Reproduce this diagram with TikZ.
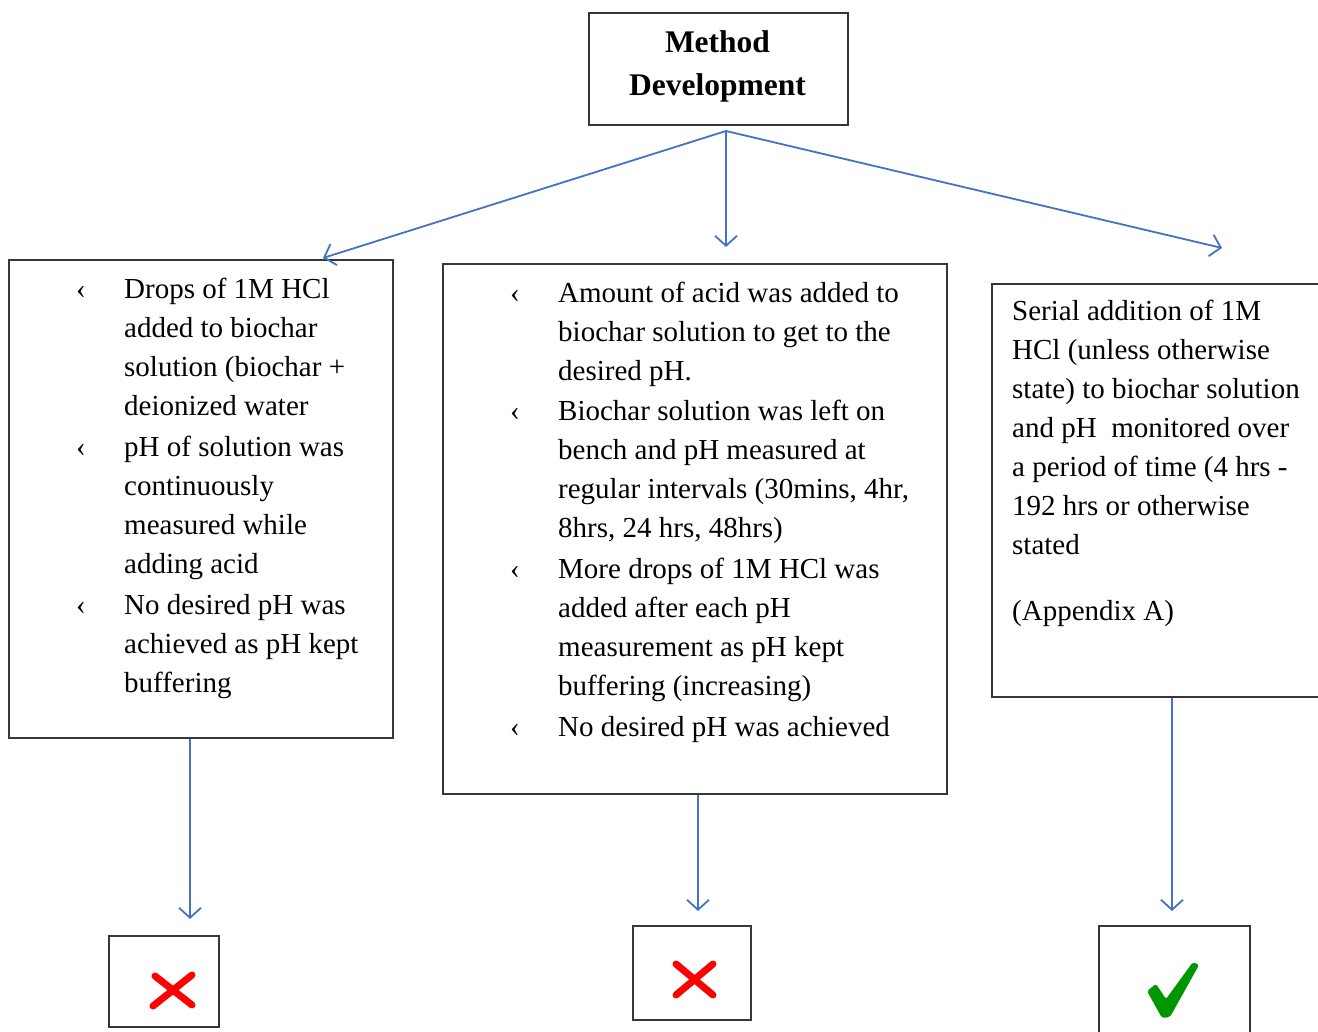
\documentclass[tikz,border=0pt]{standalone}
\usepackage{fontspec}
\setmainfont{Liberation Serif}
\usetikzlibrary{arrows.meta}
\definecolor{arrblue}{RGB}{68,114,196}
\definecolor{boxgray}{RGB}{55,55,55}
\definecolor{okgreen}{RGB}{0,150,0}
\definecolor{nored}{RGB}{255,0,0}
\begin{document}
\begin{tikzpicture}[x=1pt,y=-1pt,
  box/.style={draw=boxgray, line width=1.7pt, inner sep=0pt, anchor=north west},
  txt/.style={inner sep=0pt, anchor=base west, font=\fontsize{29}{39}\selectfont},
  arr/.style={draw=arrblue, line width=1.8pt, -{Straight Barb[length=10pt,width=22pt,line width=1.8pt]}},
  nomark/.style={draw=nored, line width=7pt, line cap=round},
]
\useasboundingbox (0,0) rectangle (1318,1032);
\clip (0,0) rectangle (1318,1032);

% boxes
\node[box, minimum width=259pt, minimum height=112pt] (md) at (588,12) {};
\node[box, minimum width=384pt, minimum height=478pt] (lb) at (8,259) {};
\node[box, minimum width=504pt, minimum height=530pt] (mb) at (442,263) {};
\node[box, minimum width=360pt, minimum height=413pt] (rb) at (991,283) {};
\node[box, minimum width=110pt, minimum height=91pt] (lr) at (108,935) {};
\node[box, minimum width=118pt, minimum height=94pt] (mr) at (632,925) {};
\node[box, minimum width=151pt, minimum height=120pt] (rr) at (1098,925) {};

% title
\node[inner sep=0pt, anchor=base, font=\bfseries\fontsize{31.5}{43}\selectfont] (mdt) at (717.5,53)
  {\begin{tabular}[t]{@{}c@{}}Method\\ Development\end{tabular}};

% texts
\node[txt] (lt) at (76,299) {\begin{tabular}[t]{@{}p{48pt}@{}l@{}}
‹ & Drops of 1M HCl\\
  & added to biochar\\
  & solution (biochar +\\
  & deionized water\\[2pt]
‹ & pH of solution was\\
  & continuously\\
  & measured while\\
  & adding acid\\[2pt]
‹ & No desired pH was\\
  & achieved as pH kept\\
  & buffering
\end{tabular}};

\node[txt] (mt) at (510,303) {\begin{tabular}[t]{@{}p{48pt}@{}l@{}}
‹ & Amount of acid was added to\\
  & biochar solution to get to the\\
  & desired pH.\\[1pt]
‹ & Biochar solution was left on\\
  & bench and pH measured at\\
  & regular intervals (30mins, 4hr,\\
  & 8hrs, 24 hrs, 48hrs)\\[2pt]
‹ & More drops of 1M HCl was\\
  & added after each pH\\
  & measurement as pH kept\\
  & buffering (increasing)\\[2pt]
‹ & No desired pH was achieved
\end{tabular}};

\node[txt] (rt) at (1012,321) {\begin{tabular}[t]{@{}l@{}}
Serial addition of 1M\\
HCl (unless otherwise\\
state) to biochar solution\\
and pH\ \ monitored over\\
a period of time (4 hrs -\\
192 hrs or otherwise\\
stated\\[27pt]
(Appendix A)
\end{tabular}};

% connectors
\coordinate (hub) at (726,131);
\coordinate (e1) at (323,258);
\coordinate (e2) at (726,247);
\coordinate (e3) at (1222,248);
\draw[arr] (hub) -- (e1);
\draw[arr] (hub) -- (e2);
\draw[arr] (hub) -- (e3);

\coordinate (d1) at (190,919);
\coordinate (d2) at (698,911);
\coordinate (d3) at (1172,911);
\draw[arr] (lb.south -| d1) -- (d1);
\draw[arr] (mb.south -| d2) -- (d2);
\draw[arr] (rb.south -| d3) -- (d3);

% marks
\draw[nomark] (153,1006) -- (192,975);
\draw[nomark] (155,976) -- (192,1005);
\draw[nomark] (676,995) -- (713,964);
\draw[nomark] (676,964) -- (713,995);
\fill[okgreen, rounded corners=2pt] (1147,991) -- (1156,984) -- (1166,999) -- (1193,962) -- (1199,965)
  -- (1170,1017) -- (1162,1018) -- cycle;
\end{tikzpicture}
\end{document}
